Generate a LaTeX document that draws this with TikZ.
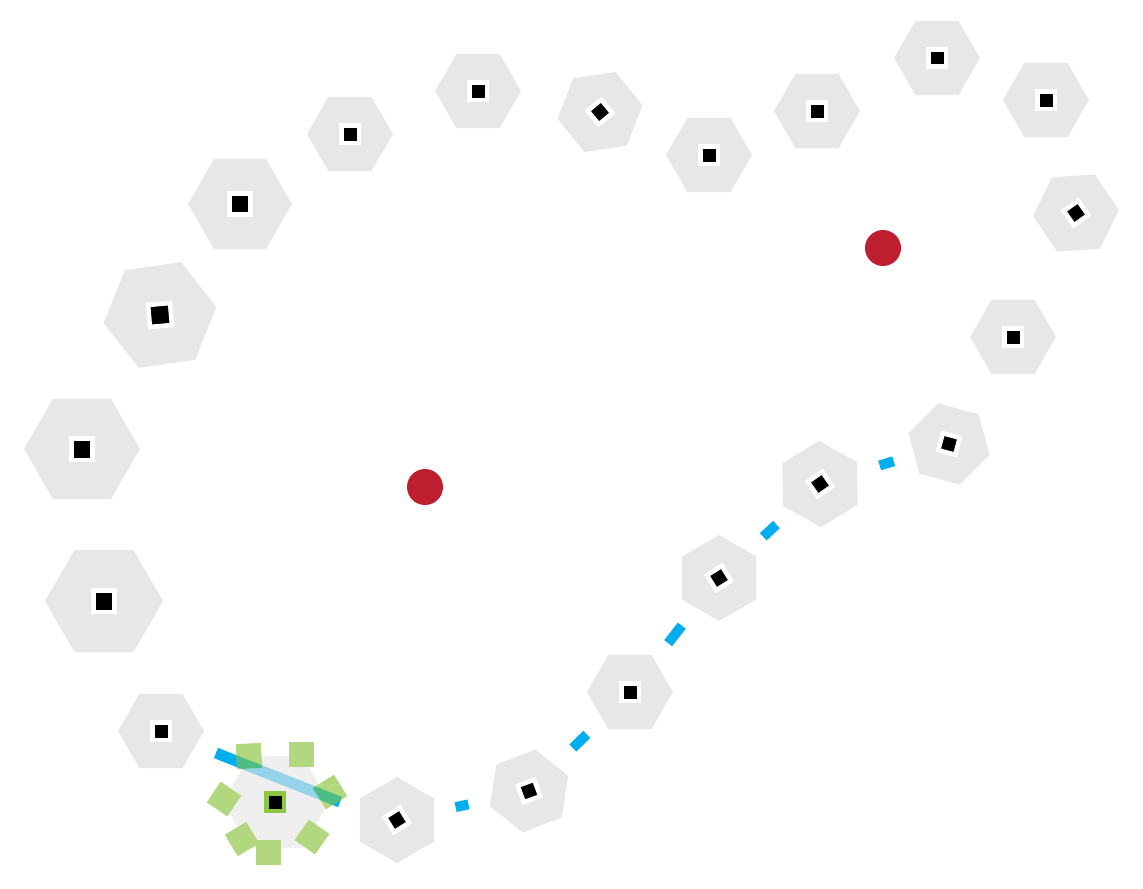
\documentclass[tikz,border=0pt]{standalone}
\usepackage{tikz}
\usetikzlibrary{shapes.geometric}

\definecolor{hexgray}{RGB}{230,231,232}
\definecolor{dotred}{RGB}{190,30,45}
\definecolor{linkblue}{RGB}{0,174,239}
\definecolor{patchgreen}{RGB}{178,215,126}
\definecolor{coregreen}{RGB}{141,198,63}
\definecolor{overlapteal}{RGB}{77,188,133}

\tikzset{
  hexcell/.style={regular polygon, regular polygon sides=6, fill=hexgray, inner sep=0pt, outer sep=0pt},
  core/.style={rectangle, fill=black, draw=white, line width=0.09cm, inner sep=0pt, minimum size=#1},
  dot/.style={circle, fill=dotred, inner sep=0pt, minimum size=0.72cm},
  link/.style={linkblue, line width=0.2cm},
}

\begin{document}
\begin{tikzpicture}[x=0.02cm, y=-0.02cm]
  \useasboundingbox (0,0) rectangle (1143,889);
  % cells round the loop
  \foreach \n/\x/\y/\r/\a/\b/\s in {1/82/449/58/0/0/0.43, 2/104/601/59/0/0/0.43,
      3/161/731/43/0/0/0.35, 5/397/820/43/30/32/0.35, 6/529/791/42/21/20/0.35,
      7/630/692/43/0/0/0.35, 8/719/578/43/30/32/0.35, 9/820/484/43/31/35/0.35,
      10/949/444/42/-15/-15/0.35, 11/1013/337/43/0/0/0.35, 12/1076/213/43/4/35/0.35,
      13/1046/100/43/0/0/0.35, 14/937/58/43/0/0/0.35, 15/817/111/43/0/0/0.35,
      16/709/155/43/0/0/0.35, 17/600/112/43/9/40/0.35, 18/478/91/43/0/0/0.35,
      19/350/134/43/0/0/0.35, 20/240/204/52/0/0/0.42, 21/160/315/57/8/5/0.44}
    {\node[hexcell, minimum size=\r*0.04cm, rotate=\a] (h\n) at (\x,\y) {};
     \node[core=\s cm, rotate=\b] (c\n) at (\x,\y) {};}

  % the two red points
  \node[dot] (redL) at (425,487) {};
  \node[dot] (redR) at (883,248) {};

  % highlighted cell
  \coordinate (barA) at (216,753);
  \coordinate (barB) at (340,802);
  \draw[linkblue, line width=0.22cm] (barA) -- (barB);
  \node[hexcell, fill opacity=0.65, minimum size=53*0.04cm] (h4) at (276,802) {};
  \foreach \x/\y/\a in {249/756/3, 301/754/0, 330/792/32, 224/799/-34,
      242/839/31, 268/852/0, 312/837/-35}
    \fill[patchgreen, rotate around={\a:(\x,\y)}] ({\x-12.5},{\y-12.5}) rectangle ({\x+12.5},{\y+12.5});
  \begin{scope}
    \clip[rotate around={3:(249,756)}] (236.5,743.5) rectangle (261.5,768.5);
    \draw[overlapteal, line width=0.22cm] (barA) -- (barB);
  \end{scope}
  \begin{scope}
    \clip[rotate around={32:(330,792)}] (317.5,779.5) rectangle (342.5,804.5);
    \draw[overlapteal, line width=0.22cm] (barA) -- (barB);
  \end{scope}
  \node[core=0.35cm, draw=coregreen] (c4) at (275,802) {};

  % links
  \draw[link, shorten <=1.2cm, shorten >=1.24cm] (h5.center) -- (h6.center);
  \draw[link, shorten <=1.23cm, shorten >=1.21cm] (h6.center) -- (h7.center);
  \draw[link, shorten <=1.24cm, shorten >=1.21cm] (h7.center) -- (h8.center);
  \draw[link, shorten <=1.21cm, shorten >=1.19cm] (h8.center) -- (h9.center);
  \draw[link, shorten <=1.25cm, shorten >=1.16cm] (h9.center) -- (h10.center);
\end{tikzpicture}
\end{document}
